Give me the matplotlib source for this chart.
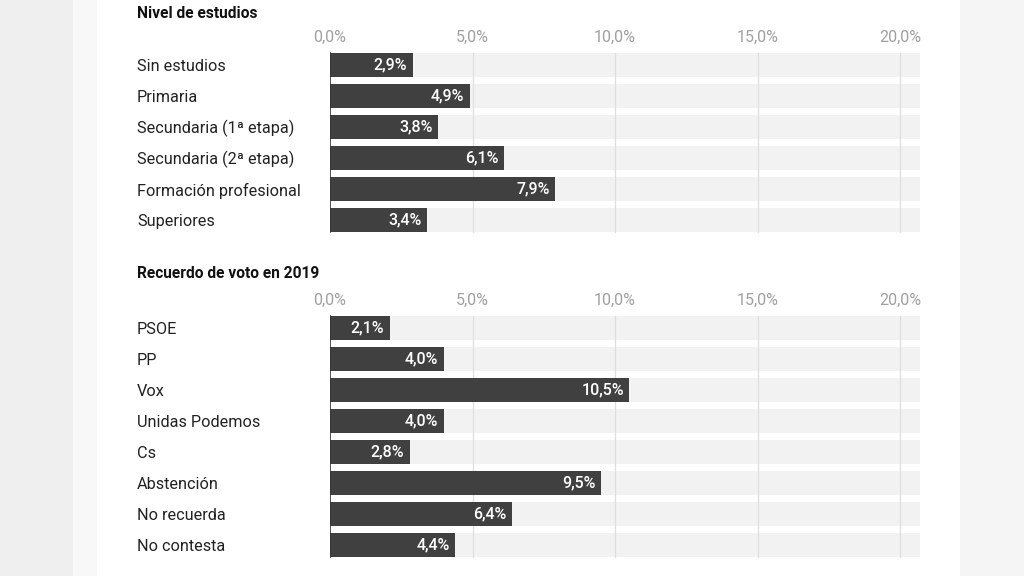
import matplotlib.pyplot as plt
from matplotlib.patches import Rectangle

plt.rcParams['font.family'] = ['Roboto', 'DejaVu Sans']

# Datos
estudios_labels = ["Sin estudios", "Primaria", "Secundaria (1ª etapa)",
                   "Secundaria (2ª etapa)", "Formación profesional", "Superiores"]
estudios_values = [2.9, 4.9, 3.8, 6.1, 7.9, 3.4]

voto_labels = ["PSOE", "PP", "Vox", "Unidas Podemos", "Cs",
               "Abstención", "No recuerda", "No contesta"]
voto_values = [2.1, 4.0, 10.5, 4.0, 2.8, 9.5, 6.4, 4.4]

ticks = [0, 5, 10, 15, 20]
xmax = 20.7

W, H = 1024, 576
BAR_COLOR = "#404040"
BG_BAR = "#f2f2f2"
GRID = "#dedede"


def fmt(v):
    return f"{v:.1f}%".replace(".", ",")


fig = plt.figure(figsize=(W / 100, H / 100), dpi=100, facecolor="#efefef")
fig.patches.append(Rectangle((73 / W, 0), (97 - 73) / W, 1, transform=fig.transFigure,
                             facecolor="#f8f8f8", edgecolor="none", zorder=-2))
fig.patches.append(Rectangle((97 / W, 0), (960 - 97) / W, 1, transform=fig.transFigure,
                             facecolor="white", edgecolor="none", zorder=-2))
fig.patches.append(Rectangle((960 / W, 0), (W - 960) / W, 1, transform=fig.transFigure,
                             facecolor="#f5f5f5", edgecolor="none", zorder=-2))


def panel(title, labels, values, title_y, tick_y, first_row_y, row_h=31, bar_h=24):
    n = len(labels)
    top = first_row_y - row_h / 2
    height = n * row_h
    x0, x1 = 330, 920
    ax = fig.add_axes([x0 / W, 1 - (top + height) / H, (x1 - x0) / W, height / H])
    ax.set_xlim(0, xmax)
    ax.set_ylim(n - 0.5, -0.5)
    ax.axis("off")
    hb = bar_h / row_h
    ys = list(range(n))
    ax.barh(ys, [xmax] * n, height=hb, color=BG_BAR, zorder=1)
    for t in ticks[1:]:
        ax.plot([t, t], [-hb / 2, n - 1 + hb / 2], color=GRID, lw=0.9, zorder=2)
    ax.barh(ys, values, height=hb, color=BAR_COLOR, zorder=3)
    ax.plot([0, 0], [-hb / 2, n - 1 + hb / 2], color="#333333", lw=1.2, zorder=4)
    for y, v in zip(ys, values):
        ax.annotate(fmt(v), (v, y), xytext=(-4, 0), textcoords="offset points",
                    ha="right", va="center", color="white", fontsize=11.5,
                    fontweight="medium", zorder=5)
    ty = 1 + (top - tick_y) / height
    for t in ticks:
        ax.text(t, ty, fmt(t), transform=ax.get_xaxis_transform(), ha="center",
                va="center", color="#a0a0a0", fontsize=11.5)
    for y, lab in zip(ys, labels):
        fig.text(137 / W, 1 - (first_row_y + 1.5 + y * row_h) / H, lab, ha="left",
                 va="center", color="#222222", fontsize=11.7)
    fig.text(137 / W, 1 - (title_y + 1) / H, title, ha="left", va="center",
             color="#111111", fontsize=11.2, fontweight="bold")


panel("Nivel de estudios", estudios_labels, estudios_values, 12, 37, 65)
panel("Recuerdo de voto en 2019", voto_labels, voto_values, 273, 300, 328)

fig.savefig("out.png", dpi=100, facecolor=fig.get_facecolor())
